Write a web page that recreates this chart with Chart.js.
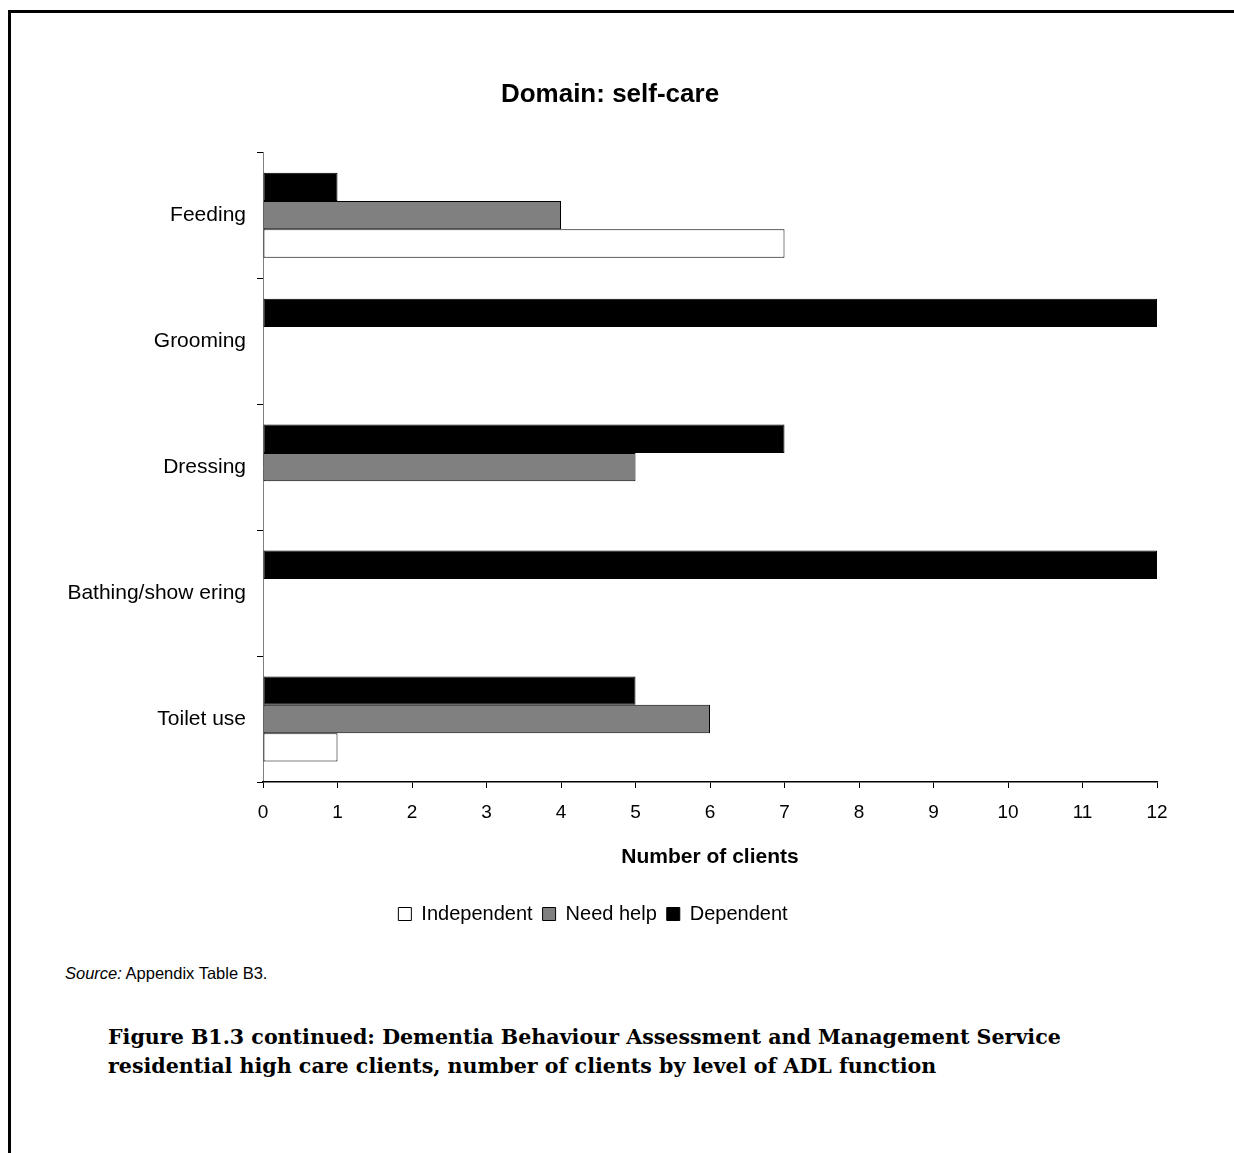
<!DOCTYPE html>
<html>
<head>
<meta charset="utf-8">
<script src="https://cdn.jsdelivr.net/npm/chart.js@4.4.1/dist/chart.umd.min.js"></script>
<style>
  html, body { margin: 0; padding: 0; background: #fff; }
  body { width: 1234px; height: 1153px; position: relative; overflow: hidden; font-family: "Liberation Sans", Arial, sans-serif; }
  #frame { position: absolute; left: 8px; top: 10px; width: 1300px; height: 1300px; border-left: 3px solid #000; border-top: 3px solid #000; }
  #wrap { position: absolute; left: 63px; top: 0; width: 1171px; height: 942px; }
  #source { position: absolute; left: 65px; top: 964px; font-size: 16.5px; color: #000; }
  #caption { position: absolute; left: 108px; top: 1023px; font-family: "DejaVu Serif", serif; font-weight: bold; font-size: 20.6px; line-height: 29px; color: #000; }
</style>
</head>
<body>
<div id="frame"></div>
<div id="wrap"><canvas id="chart" width="1171" height="942"></canvas></div>
<div id="source"><i>Source:</i> Appendix Table B3.</div>
<div id="caption">Figure B1.3 continued: Dementia Behaviour Assessment and Management Service<br>residential high care clients, number of clients by level of ADL function</div>
<script>
// Self-care activities and the number of clients at each level of function
const categories = ["Feeding", "Grooming", "Dressing", "Bathing/show ering", "Toilet use"];
const independent = [7, 0, 0, 0, 1];
const needHelp = [4, 0, 5, 0, 6];
const dependent = [1, 12, 7, 12, 5];
const xTicks = [0, 1, 2, 3, 4, 5, 6, 7, 8, 9, 10, 11, 12];

const FONT = "'Liberation Sans', Arial, sans-serif";

// hide the outline of empty bars
const edge = ctx => (ctx.raw ? 1 : 0);

// nudge the legend row a little left of the canvas centre
const legendShift = {
  id: "legendShift",
  afterLayout(chart) {
    chart.legend.left -= 17;
    chart.legend.right -= 17;
  }
};

new Chart(document.getElementById("chart"), {
  type: "bar",
  data: {
    labels: categories,
    datasets: [
      { label: "Dependent", data: dependent, backgroundColor: "#000000", borderColor: "#000000", borderWidth: edge, borderSkipped: false },
      { label: "Need help", data: needHelp, backgroundColor: "#808080", borderColor: "#000000", borderWidth: edge, borderSkipped: false },
      { label: "Independent", data: independent, backgroundColor: "#ffffff", borderColor: "#000000", borderWidth: edge, borderSkipped: false }
    ]
  },
  plugins: [legendShift],
  options: {
    indexAxis: "y",
    responsive: false,
    animation: false,
    devicePixelRatio: 1,
    layout: { padding: { left: 0, right: 77, top: 0, bottom: 8 } },
    datasets: { bar: { categoryPercentage: 0.675, barPercentage: 1 } },
    scales: {
      y: {
        type: "category",
        offset: true,
        afterFit: s => { s.width = 200; },
        grid: { offset: true, drawOnChartArea: false, drawTicks: true, tickLength: 6, color: "#000" },
        border: { display: true, color: "#808080", width: 1 },
        ticks: { color: "#000", font: { family: FONT, size: 21 }, padding: 11 }
      },
      x: {
        min: 0,
        max: 12,
        afterBuildTicks: s => { s.ticks = xTicks.map(v => ({ value: v })); },
        grid: { drawOnChartArea: false, drawTicks: true, tickLength: 6, color: "#000" },
        border: { display: true, color: "#000", width: 1.5 },
        ticks: { color: "#000", font: { family: FONT, size: 19 }, padding: 13, maxRotation: 0 },
        title: { display: true, text: "Number of clients", color: "#000", font: { family: FONT, size: 21, weight: "bold" }, padding: { top: 8, bottom: 24 } }
      }
    },
    plugins: {
      title: {
        display: true,
        text: "Domain: self-care",
        color: "#000",
        font: { family: FONT, size: 26, weight: "bold" },
        padding: { top: 79, bottom: 42 }
      },
      legend: {
        display: true,
        position: "bottom",
        reverse: true,
        labels: { color: "#000", font: { family: FONT, size: 20 }, boxWidth: 13, boxHeight: 13, padding: 10, borderWidth: 1.5 }
      },
      tooltip: { enabled: false }
    }
  }
});
</script>
</body>
</html>
